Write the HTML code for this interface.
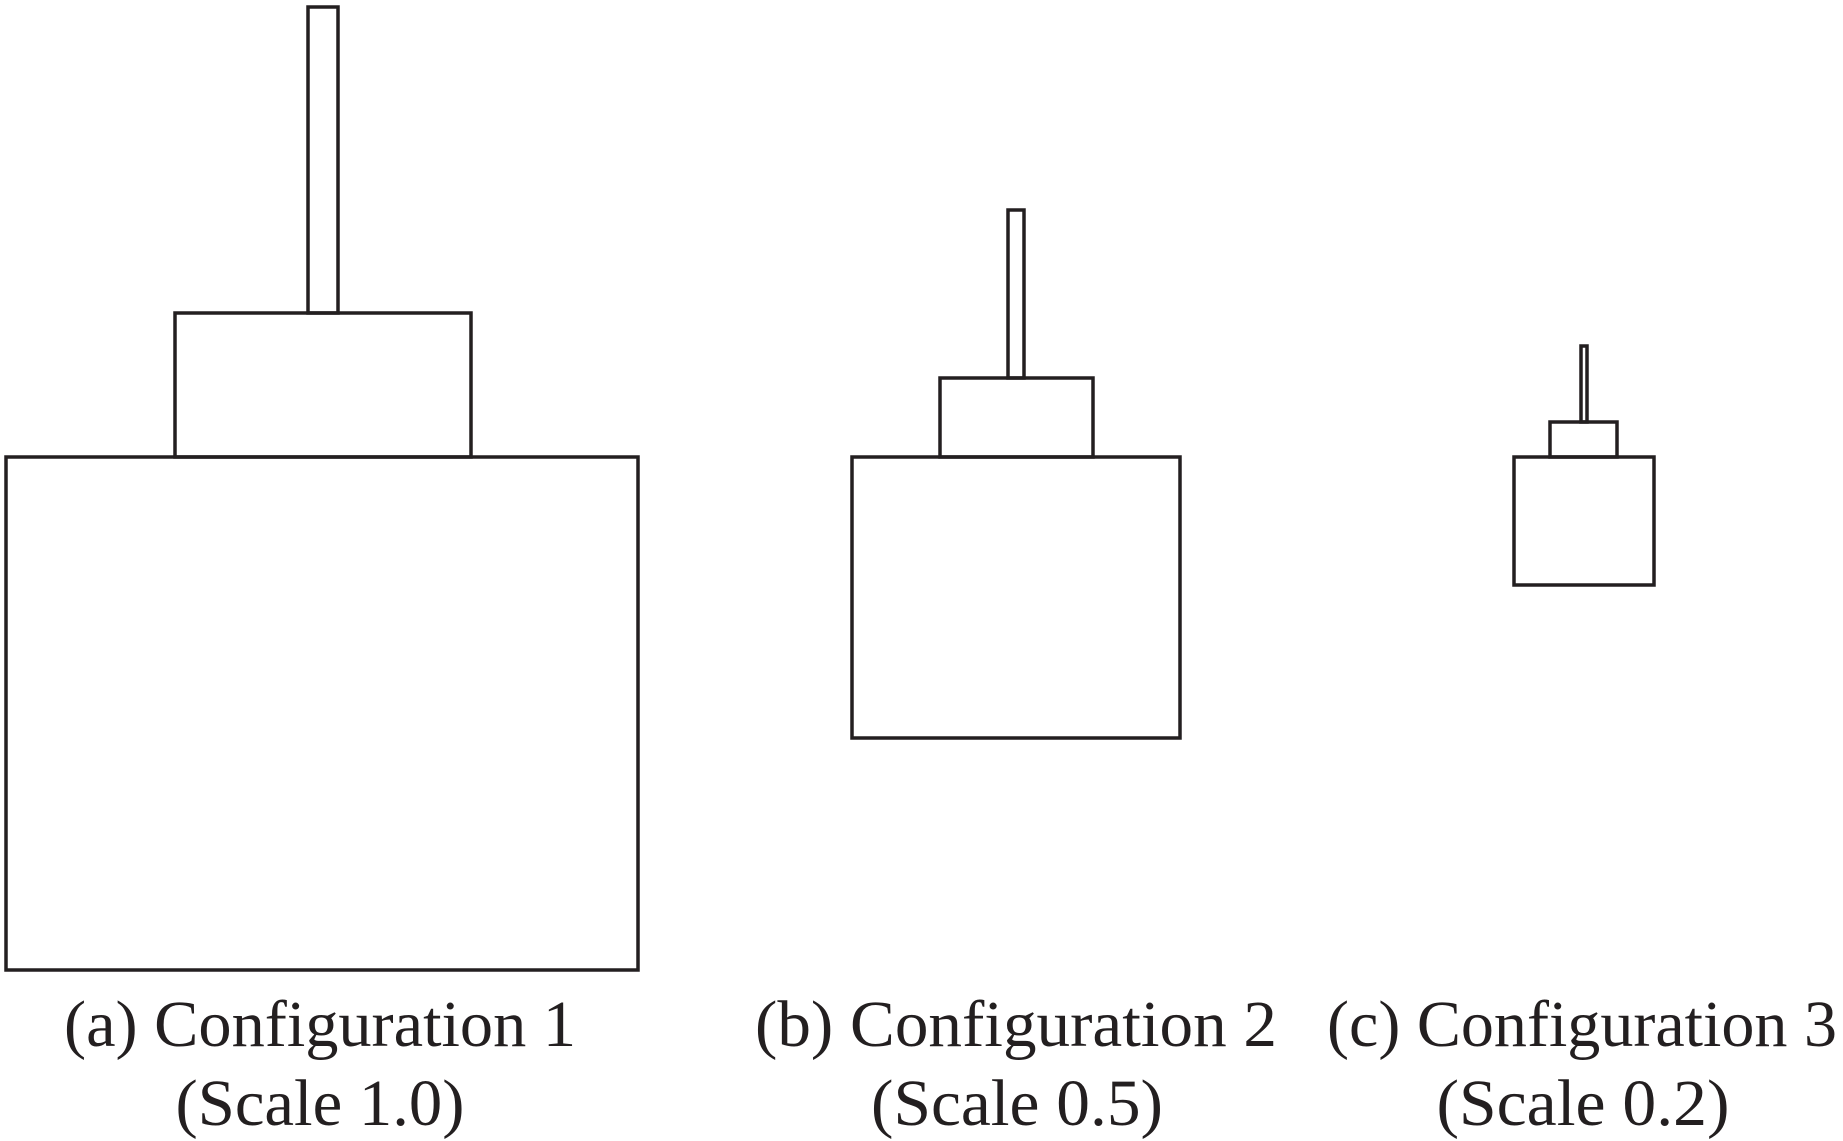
<!DOCTYPE html>
<html><head><style>html,body{margin:0;padding:0;background:#fff}svg{display:block}</style></head>
<body>
<svg width="1843" height="1141" viewBox="0 0 1843 1141" xmlns="http://www.w3.org/2000/svg">
<g fill="none" stroke="#231f20" stroke-width="3.5">
<rect x="308" y="7" width="30" height="306"/>
<rect x="175" y="313" width="296" height="144"/>
<rect x="6" y="457" width="632" height="513"/>
<rect x="1008" y="210" width="16" height="168"/>
<rect x="940" y="378" width="153" height="79"/>
<rect x="852" y="457" width="328" height="281"/>
<rect x="1581" y="346" width="6" height="76"/>
<rect x="1550" y="422" width="67" height="35"/>
<rect x="1514" y="457" width="140" height="128"/>
</g>
<g font-family="Liberation Serif, serif" font-size="66" fill="#231f20" text-anchor="middle">
<text x="320" y="1046" textLength="512" lengthAdjust="spacingAndGlyphs">(a) Configuration 1</text>
<text x="320" y="1125" textLength="289" lengthAdjust="spacingAndGlyphs">(Scale 1.0)</text>
<text x="1016" y="1046" textLength="522" lengthAdjust="spacingAndGlyphs">(b) Configuration 2</text>
<text x="1017" y="1125" textLength="292" lengthAdjust="spacingAndGlyphs">(Scale 0.5)</text>
<text x="1582" y="1046" textLength="510" lengthAdjust="spacingAndGlyphs">(c) Configuration 3</text>
<text x="1583" y="1125" textLength="293" lengthAdjust="spacingAndGlyphs">(Scale 0.2)</text>
</g>
</svg>
</body></html>
